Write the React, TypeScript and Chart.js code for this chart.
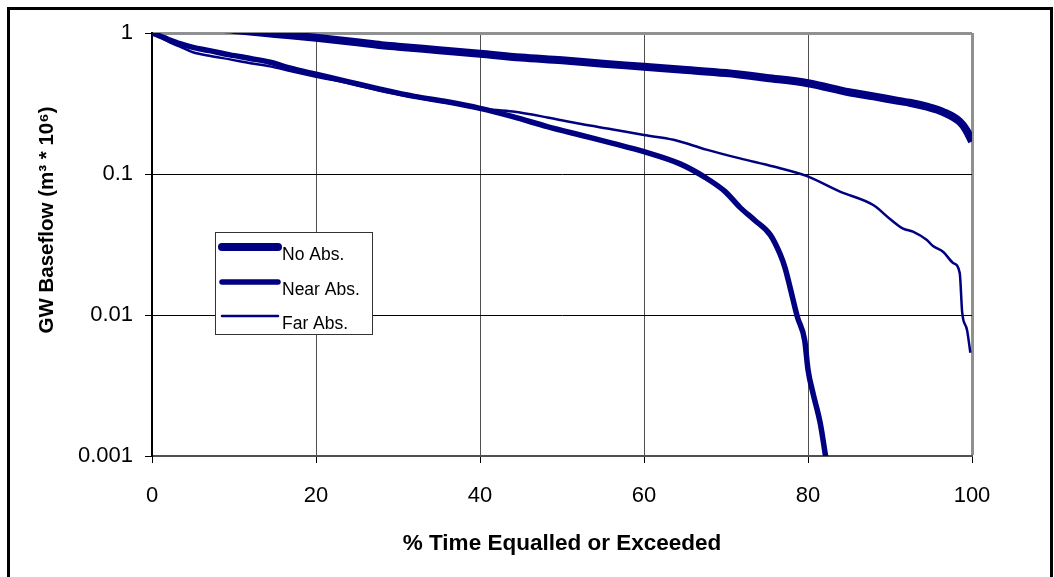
import React, { useEffect, useRef } from "react";
import { Chart, registerables } from "chart.js";

Chart.register(...registerables);

// ---- Data ----
const noAbsX = [0, 2, 5, 10, 15, 20, 25, 28, 30, 35, 40, 45, 50, 55, 60, 64.4, 70, 75, 80, 85, 88, 91, 92.4, 94.5, 96.5, 98.5, 99.3, 100];
const noAbsY = [1.3, 1.2, 1.13, 1.05, 0.985, 0.925, 0.86, 0.82, 0.8, 0.755, 0.712, 0.67, 0.64, 0.605, 0.577, 0.551, 0.52, 0.48, 0.44, 0.38, 0.355, 0.33, 0.32, 0.3, 0.275, 0.235, 0.205, 0.17];

const nearAbsX = [0, 1, 2, 3.4, 5, 7, 9.5, 12, 14.4, 17, 20, 24, 27.8, 32, 36, 40, 44, 48.2, 52.2, 56.2, 60, 64.4, 67.4, 69.9, 71.7, 73.5, 75.4, 76.6, 77.2, 77.8, 78.7, 79.6, 80, 80.6, 81.5, 82.2];
const nearAbsY = [1.0, 0.95, 0.9, 0.84, 0.79, 0.75, 0.7, 0.66, 0.62, 0.56, 0.51, 0.45, 0.4, 0.355, 0.325, 0.292, 0.255, 0.217, 0.189, 0.165, 0.144, 0.118, 0.095, 0.075, 0.058, 0.047, 0.037, 0.027, 0.0216, 0.0158, 0.0097, 0.0066, 0.0041, 0.0028, 0.0017, 0.00095];

const farAbsX = [0, 1, 2, 3.4, 5, 7, 9.5, 12, 14.4, 17, 20, 24, 27.8, 32, 36, 40, 44, 48.2, 52.2, 56.2, 60, 63.6, 67.6, 71.7, 75.8, 79.8, 83.9, 88, 90, 91.6, 92.8, 94.5, 95.2, 96.5, 97.7, 98.5, 98.8, 99.4, 99.8];
const farAbsY = [1.0, 0.93, 0.87, 0.8, 0.73, 0.69, 0.65, 0.61, 0.58, 0.535, 0.49, 0.44, 0.39, 0.35, 0.32, 0.292, 0.277, 0.252, 0.227, 0.207, 0.189, 0.175, 0.149, 0.129, 0.113, 0.097, 0.075, 0.06, 0.048, 0.041, 0.039, 0.034, 0.031, 0.028, 0.0234, 0.0199, 0.0105, 0.0078, 0.0054];

const seriesNames = ["No Abs.", "Near Abs.", "Far Abs."];
const yTickValues = [0.001, 0.01, 0.1, 1];
const yTickLabels = ["0.001", "0.01", "0.1", "1"];
const xTickStep = 20;
const xTitle = "% Time Equalled or Exceeded";
const yTitle = "GW Baseflow (m\u00B3 * 10\u2076)";

const NAVY = "#000080";
const FONT = "'Liberation Sans', Arial, sans-serif";

function toPoints(xs: number[], ys: number[]) {
  return xs.map((x, i) => ({ x, y: ys[i] }));
}

const decorPlugin = {
  id: "decor",
  beforeDraw(chart: any) {
    const ctx = chart.ctx;
    ctx.save();
    ctx.fillStyle = "#ffffff";
    ctx.fillRect(0, 0, chart.width, chart.height);
    ctx.strokeStyle = "#000000";
    ctx.lineWidth = 3;
    ctx.strokeRect(8.5, 8.5, 1043, 620);
    ctx.restore();
  },
  afterDatasetsDraw(chart: any) {
    const ctx = chart.ctx;
    const widths = [8, 5.5, 2.5];
    ctx.save();
    // legend box
    const bx = 215.5, by = 232.5, bw = 157, bh = 102;
    ctx.fillStyle = "#ffffff";
    ctx.fillRect(bx, by, bw, bh);
    ctx.strokeStyle = "#333333";
    ctx.lineWidth = 1;
    ctx.strokeRect(bx, by, bw, bh);
    const rows = [247, 282, 316];
    ctx.font = `17.5px ${FONT}`;
    ctx.textAlign = "left";
    ctx.textBaseline = "alphabetic";
    seriesNames.forEach((name, i) => {
      ctx.strokeStyle = NAVY;
      ctx.lineWidth = widths[i];
      ctx.lineCap = "round";
      ctx.beginPath();
      ctx.moveTo(222, rows[i]);
      ctx.lineTo(278, rows[i]);
      ctx.stroke();
      ctx.fillStyle = "#000000";
      ctx.fillText(name, 282, rows[i] + 13);
    });
    // titles
    ctx.fillStyle = "#000000";
    ctx.font = `bold 22.5px ${FONT}`;
    ctx.textAlign = "center";
    ctx.textBaseline = "middle";
    const ca = chart.chartArea;
    ctx.fillText(xTitle, (ca.left + ca.right) / 2, 544);
    ctx.save();
    ctx.translate(47, 220);
    ctx.rotate(-Math.PI / 2);
    ctx.font = `bold 20.5px ${FONT}`;
    ctx.fillText(yTitle, 0, 0);
    ctx.restore();
    ctx.restore();
  },
};

export default function App() {
  const ref = useRef<HTMLCanvasElement | null>(null);
  useEffect(() => {
    if (!ref.current) return;
    const common = { borderColor: NAVY, pointRadius: 0, clip: 0, borderJoinStyle: "round", cubicInterpolationMode: "monotone" };
    const chart = new Chart(ref.current, {
      type: "line",
      data: {
        datasets: [
          { ...common, label: seriesNames[0], data: toPoints(noAbsX, noAbsY), borderWidth: 8 },
          { ...common, label: seriesNames[1], data: toPoints(nearAbsX, nearAbsY), borderWidth: 5.5 },
          { ...common, label: seriesNames[2], data: toPoints(farAbsX, farAbsY), borderWidth: 2.5 },
        ],
      } as any,
      options: {
        animation: false,
        responsive: false,
        devicePixelRatio: 1,
        parsing: false,
        layout: { padding: { top: 33, right: 82, left: 0, bottom: 0 } },
        plugins: { legend: { display: false }, tooltip: { enabled: false } },
        scales: {
          x: {
            type: "linear",
            min: 0,
            max: 100,
            afterFit: (s: any) => {
              s.height = 121;
            },
            ticks: {
              stepSize: xTickStep,
              color: "#000",
              font: { family: FONT, size: 22 },
              padding: 20,
              maxRotation: 0,
            },
            grid: {
              color: (c: any) =>
                c.tick && c.tick.value === 100 ? "#909090" : c.tick && c.tick.value === 0 ? "#000" : "#505050",
              lineWidth: (c: any) => (c.tick && c.tick.value === 100 ? 3 : 1),
              drawTicks: true,
              tickLength: 7,
              tickColor: "#000",
              tickWidth: 1,
            },
            border: { display: true, color: "#505050", width: 2 },
          },
          y: {
            type: "logarithmic",
            min: 0.001,
            max: 1,
            afterFit: (s: any) => {
              s.width = 152;
            },
            afterBuildTicks: (s: any) => {
              s.ticks = yTickValues.map((v) => ({ value: v }));
            },
            ticks: {
              color: "#000",
              font: { family: FONT, size: 22 },
              padding: 12,
              callback: (v: any) => {
                const i = yTickValues.findIndex((t) => Math.abs(t - Number(v)) < 1e-9);
                return i >= 0 ? yTickLabels[i] : "";
              },
            },
            grid: {
              color: (c: any) => (c.tick && c.tick.value === 1 ? "#909090" : "#000"),
              lineWidth: (c: any) => (c.tick && c.tick.value === 1 ? 3 : 1),
              drawTicks: true,
              tickLength: 7,
              tickColor: "#000",
              tickWidth: 1,
            },
            border: { display: true, color: "#000", width: 2 },
          },
        },
      } as any,
      plugins: [decorPlugin],
    });
    return () => chart.destroy();
  }, []);
  return (
    <div style={{ position: "absolute", left: 0, top: 0, width: 1054, height: 577 }}>
      <canvas ref={ref} width={1054} height={577} style={{ display: "block" }} />
    </div>
  );
}
